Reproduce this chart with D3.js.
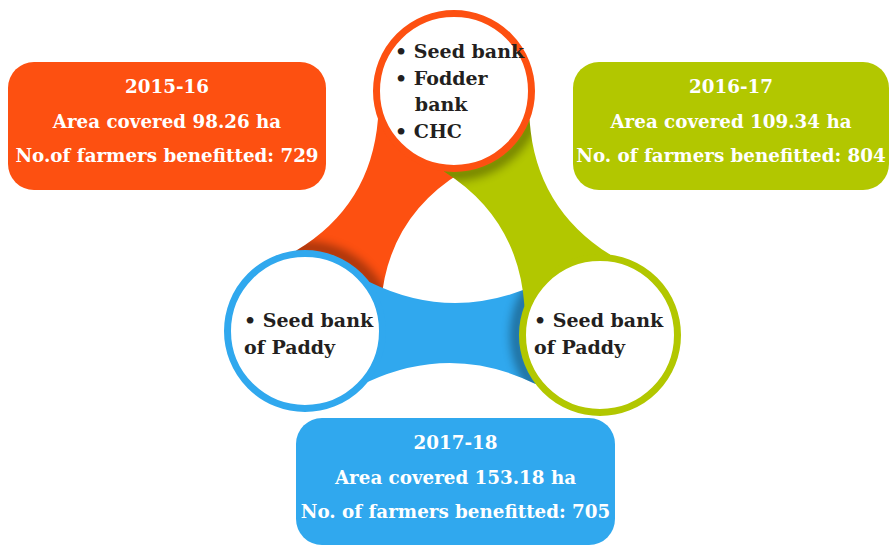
<!DOCTYPE html>
<html>
<head>
<meta charset="utf-8">
<script src="https://cdn.jsdelivr.net/npm/d3@7"></script>
<style>
  body { margin: 0; background: #fff; }
  svg text { font-family: "DejaVu Serif", serif; font-weight: bold; }
</style>
</head>
<body>
<div id="graph"></div>
<script>
// data
var years = ["2015-16", "2016-17", "2017-18"];
var areaLabels = ["Area covered 98.26 ha", "Area covered 109.34 ha", "Area covered 153.18 ha"];
var farmerLabels = ["No.of farmers benefitted: 729", "No. of farmers benefitted: 804", "No. of farmers benefitted: 705"];
var activities = [
  ["• Seed bank", "• Fodder", "   bank", "• CHC"],
  ["• Seed bank", "of Paddy"],
  ["• Seed bank", "of Paddy"]
];
var colors = ["#fd5011", "#b2c700", "#30a8ee"];

var width = 890, height = 547;

// nodes: top (2015-16), right (2016-17), left (2017-18)
var nodes = [
  {cx: 454, cy: 91,  box: {x: 8,   y: 62,  w: 318, h: 128}, text: {x: 395, y: 58}},
  {cx: 600, cy: 335, box: {x: 573, y: 62,  w: 316, h: 128}, text: {x: 534, y: 327}},
  {cx: 305, cy: 331, box: {x: 296, y: 418, w: 319, h: 127}, text: {x: 244, y: 327}}
];
var R = 77.5, ring = 7;

// bands: from -> to (band takes colour of "from", tucks under "to")
var bands = [[0, 2], [2, 1], [1, 0]];

var svg = d3.select("#graph").append("svg")
  .attr("width", width).attr("height", height);

var defs = svg.append("defs");
defs.append("filter").attr("id", "blur")
  .attr("x", "-20%").attr("y", "-20%").attr("width", "140%").attr("height", "140%")
  .append("feGaussianBlur").attr("stdDeviation", 5);

function bandPath(a, b, waist) {
  var dx = b.cx - a.cx, dy = b.cy - a.cy, d = Math.sqrt(dx * dx + dy * dy);
  var ux = dx / d, uy = dy / d, nx = -uy, ny = ux;
  var alpha = 38 * Math.PI / 180, r = R + ring / 2;
  var mx = (a.cx + b.cx) / 2, my = (a.cy + b.cy) / 2;
  var h = 2 * waist - r * Math.sin(alpha);
  function pt(c, s, side) {
    return [c.cx + r * (s * ux * Math.cos(alpha) + side * nx * Math.sin(alpha)),
            c.cy + r * (s * uy * Math.cos(alpha) + side * ny * Math.sin(alpha))];
  }
  var p = d3.path();
  var a1 = pt(a, 1, 1), b1 = pt(b, -1, 1), b2 = pt(b, -1, -1), a2 = pt(a, 1, -1);
  p.moveTo(a.cx, a.cy);
  p.lineTo(a1[0], a1[1]);
  p.quadraticCurveTo(mx + nx * h, my + ny * h, b1[0], b1[1]);
  p.lineTo(b.cx, b.cy);
  p.lineTo(b2[0], b2[1]);
  p.quadraticCurveTo(mx - nx * h, my - ny * h, a2[0], a2[1]);
  p.closePath();
  return p.toString();
}

var bandG = svg.append("g");
bands.forEach(function(bd, i) {
  var a = nodes[bd[0]], b = nodes[bd[1]];
  var dpath = bandPath(a, b, 30);
  defs.append("clipPath").attr("id", "band" + i).append("path").attr("d", dpath);
  bandG.append("path").attr("d", dpath).attr("fill", colors[bd[0]]);
  bandG.append("g").attr("clip-path", "url(#band" + i + ")")
    .append("circle")
    .attr("cx", b.cx).attr("cy", b.cy).attr("r", R + 6)
    .attr("fill", "none").attr("stroke", "#000").attr("stroke-width", 12)
    .attr("opacity", 0.35).attr("filter", "url(#blur)");
});

var nodeG = svg.selectAll(".node").data(nodes).enter().append("g").attr("class", "node");

nodeG.append("circle")
  .attr("cx", function(d) { return d.cx; })
  .attr("cy", function(d) { return d.cy; })
  .attr("r", R)
  .attr("fill", "#fff")
  .attr("stroke", function(d, i) { return colors[i]; })
  .attr("stroke-width", ring);

nodeG.each(function(d, i) {
  var t = d3.select(this).append("text")
    .attr("x", d.text.x).attr("y", d.text.y)
    .attr("fill", "#231f20").style("font-size", "19px");
  activities[i].forEach(function(line, j) {
    t.append("tspan").attr("x", d.text.x).attr("y", d.text.y + j * (i == 0 ? 26.7 : 27))
      .attr("xml:space", "preserve").style("white-space", "pre").text(line);
  });
});

// info boxes
var boxG = svg.selectAll(".box").data(nodes).enter().append("g").attr("class", "box");
boxG.append("rect")
  .attr("x", function(d) { return d.box.x; })
  .attr("y", function(d) { return d.box.y; })
  .attr("width", function(d) { return d.box.w; })
  .attr("height", function(d) { return d.box.h; })
  .attr("rx", 26)
  .attr("fill", function(d, i) { return colors[i]; });

boxG.each(function(d, i) {
  var lines = [years[i], areaLabels[i], farmerLabels[i]];
  var g = d3.select(this);
  lines.forEach(function(l, j) {
    g.append("text")
      .attr("x", d.box.x + d.box.w / 2)
      .attr("y", d.box.y + 31 + j * 34.5)
      .attr("text-anchor", "middle")
      .attr("fill", "#fff")
      .style("font-size", "18.3px")
      .text(l);
  });
});
</script>
</body>
</html>
